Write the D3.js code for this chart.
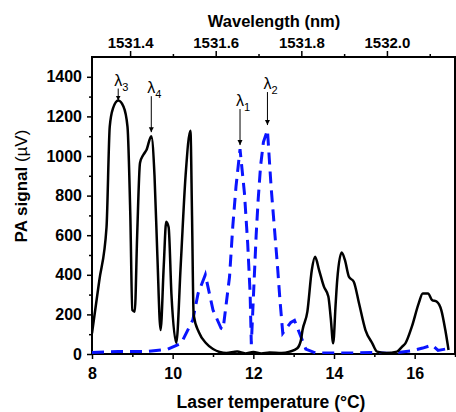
<!DOCTYPE html>
<html lang="en">
  <head>
    <meta charset="UTF-8" />
    <title>PA signal vs laser temperature</title>
    <style>
      body {
        margin: 0;
        background: white;
      }
      text {
        font-family: "Liberation Sans", Arial, sans-serif;
      }
      .tick text {
        font-weight: bold;
      }
      .tick line {
        stroke: black;
        stroke-width: 1.5px;
      }
    </style>
  </head>
  <body>
    <svg></svg>
    <script src="https://cdnjs.cloudflare.com/ajax/libs/d3/7.1.0/d3.min.js"></script>
    <script>
      // black solid trace: laser temperature (°C) and PA signal (µV)
      const tempsBlack = [
        8.0, 8.18, 8.36, 8.44, 8.52, 8.65, 8.78, 8.88, 8.95, 9.0, 9.06, 9.12, 9.19,
        9.27, 9.35, 9.47, 9.55, 9.62, 9.7, 9.78, 9.84, 9.9, 9.97, 10.09, 10.2,
        10.32, 10.44, 10.48, 10.52, 10.65, 10.83, 11.0, 11.33, 11.6, 11.8, 12.0,
        12.2, 12.4, 12.7, 12.9, 13.09, 13.18, 13.22, 13.34, 13.45, 13.53, 13.63,
        13.75, 13.86, 13.92, 13.98, 14.04, 14.08, 14.19, 14.27, 14.37, 14.49,
        14.62, 14.78, 14.95, 15.07, 15.3, 15.56, 15.69, 15.77, 15.93, 16.1, 16.2,
        16.33, 16.43, 16.55, 16.66, 16.76, 16.84
      ];
      const signalBlack = [
        105, 370, 640, 1148, 1240, 1280, 1250, 1148, 700, 222, 214, 600, 965,
        1005, 1030, 1100, 900, 500, 121, 450, 668, 640, 300, 56, 450,
        900, 1128, 700, 197, 110, 54, 25, 5, 12, 3, 10,
        3, 8, 5, 12, 29, 70, 121, 214, 424, 491, 424,
        340, 290, 180, 54, 250, 374, 512, 475, 390, 365,
        256, 121, 54, 12, 5, 12, 37, 54, 138, 256, 306,
        306, 273, 264, 222, 121, 20
      ];

      // blue dashed trace
      const tempsBlue = [
        8.0, 8.65, 9.35, 9.88, 10.21, 10.5, 10.63, 10.81, 11.0, 11.2, 11.25,
        11.41, 11.49, 11.57, 11.67, 11.78, 11.86, 11.92, 11.95, 12.0, 12.07,
        12.12, 12.18, 12.25, 12.35, 12.44, 12.52, 12.6, 12.66, 12.73, 12.93,
        13.02, 13.3, 13.55, 14.0, 14.5, 15.0, 15.4, 15.9, 16.2, 16.43, 16.58,
        16.9
      ];
      const signalBlue = [
        8, 12, 12, 24, 54, 172, 306, 400, 222, 130, 125,
        390, 643, 845, 1035, 811, 559, 306, 50, 280, 600,
        780, 950, 1070, 1131, 845, 643, 441, 273, 105, 160,
        170, 25, 5, 5, 5, 8, 3, 15, 30, 45, 18,
        30
      ];

      const xTicks = [8, 10, 12, 14, 16];
      const xMinorTicks = [9, 11, 13, 15, 17];
      const yTicks = [0, 200, 400, 600, 800, 1000, 1200, 1400];
      const yMinorTicks = [100, 300, 500, 700, 900, 1100, 1300];
      const wlTicks = [1531.4, 1531.6, 1531.8, 1532.0];
      const wlMinorTicks = [1531.5, 1531.7, 1531.9, 1532.1];

      // peak markers
      const peakSubs = ["3", "4", "1", "2"];
      const peakTemps = [8.65, 9.47, 11.67, 12.35];
      const peakValues = [1280, 1100, 1035, 1131];

      const width = 456,
        height = 412;
      const pLeft = 92,
        pRight = 455,
        pTop = 57,
        pBottom = 354;

      const svg = d3
        .select("svg")
        .attr("width", width)
        .attr("height", height);

      const x = d3.scaleLinear().domain([8, 17]).range([pLeft, pRight]);
      const y = d3.scaleLinear().domain([0, 1500]).range([pBottom, pTop]);
      const wl = d3
        .scaleLinear()
        .domain([1531.311, 1532.159])
        .range([pLeft, pRight]);

      svg
        .append("clipPath")
        .attr("id", "clippy")
        .append("rect")
        .attr("x", pLeft)
        .attr("y", pTop)
        .attr("width", pRight - pLeft)
        .attr("height", pBottom - pTop);

      // axes
      const xAxis = svg
        .append("g")
        .attr("transform", "translate(0," + pBottom + ")")
        .call(
          d3.axisBottom(x).tickValues(xTicks).tickSize(5).tickPadding(9).tickFormat(d3.format("d"))
        );
      svg
        .append("g")
        .attr("transform", "translate(0," + pBottom + ")")
        .call(d3.axisBottom(x).tickValues(xMinorTicks).tickSize(3).tickFormat(""));

      const yAxis = svg
        .append("g")
        .attr("transform", "translate(" + pLeft + ",0)")
        .call(d3.axisLeft(y).tickValues(yTicks).tickSize(5).tickPadding(5).tickFormat(d3.format("d")));
      svg
        .append("g")
        .attr("transform", "translate(" + pLeft + ",0)")
        .call(d3.axisLeft(y).tickValues(yMinorTicks).tickSize(3).tickFormat(""));

      const topAxis = svg
        .append("g")
        .attr("transform", "translate(0," + pTop + ")")
        .call(d3.axisTop(wl).tickValues(wlTicks).tickSize(6).tickPadding(3).tickFormat(d3.format(".1f")));
      svg
        .append("g")
        .attr("transform", "translate(0," + pTop + ")")
        .call(d3.axisTop(wl).tickValues(wlMinorTicks).tickSize(3).tickFormat(""));

      svg.selectAll(".domain").remove();
      xAxis.selectAll("text").style("font-size", "16px");
      yAxis.selectAll("text").style("font-size", "16px");
      topAxis.selectAll("text").style("font-size", "15px");

      // frame
      svg
        .append("rect")
        .attr("x", pLeft)
        .attr("y", pTop)
        .attr("width", pRight - pLeft)
        .attr("height", pBottom - pTop)
        .attr("fill", "none")
        .attr("stroke", "black")
        .attr("stroke-width", 2);

      // traces
      const lineBlack = d3
        .line()
        .x(function (d, i) {
          return x(tempsBlack[i]);
        })
        .y(function (d) {
          return y(d);
        })
        .curve(d3.curveMonotoneX);

      const lineBlue = d3
        .line()
        .x(function (d, i) {
          return x(tempsBlue[i]);
        })
        .y(function (d) {
          return y(d);
        });

      svg
        .append("path")
        .attr("d", lineBlue(signalBlue))
        .attr("fill", "none")
        .attr("stroke", "#0a14ff")
        .attr("stroke-width", 3)
        .attr("stroke-dasharray", "12,7")
        .attr("clip-path", "url(#clippy)");

      svg
        .append("path")
        .attr("d", lineBlack(signalBlack))
        .attr("fill", "none")
        .attr("stroke", "black")
        .attr("stroke-width", 2.5)
        .attr("stroke-linejoin", "round")
        .attr("clip-path", "url(#clippy)");

      // arrows + lambda labels
      svg
        .append("defs")
        .append("marker")
        .attr("id", "head")
        .attr("viewBox", "0 0 10 10")
        .attr("refX", 10)
        .attr("refY", 5)
        .attr("markerWidth", 5)
        .attr("markerHeight", 6)
        .attr("markerUnits", "userSpaceOnUse")
        .attr("orient", "auto")
        .append("path")
        .attr("d", "M0,0L10,5L0,10z")
        .attr("fill", "black");

      const arrowLen = [12, 36, 36, 33];
      const tipGap = [0, 4, 4, 5];

      peakSubs.forEach(function (s, i) {
        const px = x(peakTemps[i]);
        const tip = y(peakValues[i]) - tipGap[i];
        const start = tip - arrowLen[i];
        svg
          .append("line")
          .attr("x1", px)
          .attr("x2", px)
          .attr("y1", start)
          .attr("y2", tip)
          .attr("stroke", "black")
          .attr("stroke-width", 1)
          .attr("marker-end", "url(#head)");
        const t = svg
          .append("text")
          .attr("x", px - 4)
          .attr("y", start - 3)
          .style("font-size", "16px");
        t.append("tspan").text("λ");
        t.append("tspan").attr("dy", 5).style("font-size", "11px").text(s);
      });

      // titles
      svg
        .append("text")
        .attr("x", 274)
        .attr("y", 27)
        .attr("text-anchor", "middle")
        .style("font-size", "16.5px")
        .style("font-weight", "bold")
        .text("Wavelength (nm)");

      svg
        .append("text")
        .attr("x", 271)
        .attr("y", 408)
        .attr("text-anchor", "middle")
        .style("font-size", "17.5px")
        .style("font-weight", "bold")
        .text("Laser temperature (°C)");

      const yl = svg
        .append("text")
        .attr("transform", "translate(27,186) rotate(-90)")
        .attr("text-anchor", "middle")
        .style("font-size", "17px");
      yl.append("tspan").style("font-weight", "bold").text("PA signal ");
      yl.append("tspan").text("(µV)");
    </script>
  </body>
</html>
